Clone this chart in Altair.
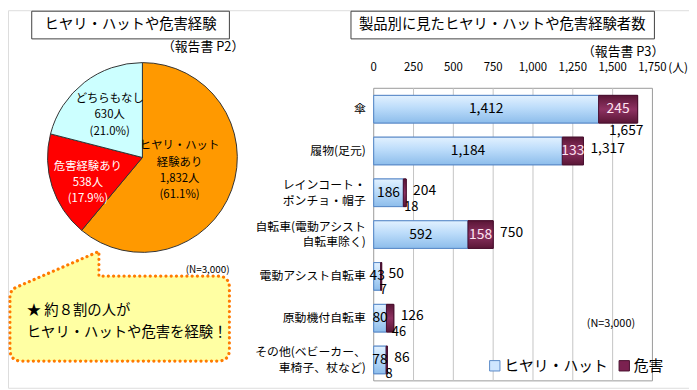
import math
import altair as alt
import pandas as pd

FONT = "Noto Sans CJK JP"

# ---------------- data ----------------
pie_title = "ヒヤリ・ハットや危害経験"
pie_source = "（報告書 P2）"
pie_names = ["ヒヤリ・ハット経験あり", "危害経験あり", "どちらもなし"]
pie_lines = ["ヒヤリ・ハット\n経験あり", "危害経験あり", "どちらもなし"]
pie_counts = [1832, 538, 630]
pie_pcts = [61.1, 17.9, 21.0]
pie_n = "(N=3,000)"
callout_lines = ["★  約８割の人が", "ヒヤリ・ハットや危害を経験！"]

bar_title = "製品別に見たヒヤリ・ハットや危害経験者数"
bar_source = "（報告書 P3）"
categories = ["傘", "履物(足元)", "レインコート・\nポンチョ・帽子", "自転車(電動アシスト\n自転車除く)　　",
              "電動アシスト自転車", "原動機付自転車", "その他(ベビーカー、\n車椅子、杖など)　"]
hiyari = [1412, 1184, 186, 592, 43, 80, 78]
kigai = [245, 133, 18, 158, 7, 46, 8]
totals = [1657, 1317, 204, 750, 50, 126, 86]
series_names = ["ヒヤリ・ハット", "危害"]
x_ticks = [0, 250, 500, 750, 1000, 1250, 1500, 1750]
x_unit = "(人)"
bar_n = "(N=3,000)"

# ---------------- tables ----------------
pie_df = pd.DataFrame({
    "name": pie_names,
    "count": pie_counts,
    "idx": list(range(len(pie_names))),
    "label": [f"{l}\n{c:,}人\n({p:.1f}%)" for l, c, p in zip(pie_lines, pie_counts, pie_pcts)],
})
bar_df = pd.DataFrame({"category": categories, "hiyari": hiyari, "kigai": kigai, "total": totals})
long_df = pd.DataFrame({
    "category": categories * 2,
    "series": [series_names[0]] * len(categories) + [series_names[1]] * len(categories),
    "value": hiyari + kigai,
    "sidx": [0] * len(categories) + [1] * len(categories),
})
one = pd.DataFrame({"t": [""]})

# ---------------- scales ----------------
PX0, PX1, PY0, PY1 = 370, 652, 79, 375
xs = alt.Scale(domain=[x_ticks[0], x_ticks[-1]], range=[PX0, PX1], nice=False, zero=True)
ys = alt.Scale(domain=categories, range=[PY0, PY1], paddingInner=0.34, paddingOuter=0.17)
ts = alt.Scale(domain=[0, sum(pie_counts)], range=[0, 2 * math.pi], nice=False)
PCX, PCY, PR = 136, 149, 96
LH = 16.5


def label(text, x, y, size, align="center", color="black"):
    return alt.Chart(pd.DataFrame({"t": [text]})).mark_text(
        font=FONT, fontSize=size, align=align, baseline="middle", color=color
    ).encode(x=alt.value(x), y=alt.value(y), text="t:N")


def box(x0, x1, y0, y1):
    return alt.Chart(one).mark_rect(fill="white", stroke="#404040", strokeWidth=1).encode(
        x=alt.value(x0), x2=alt.value(x1), y=alt.value(y0), y2=alt.value(y1))


# ---------------- left: pie ----------------
pie_base = alt.Chart(pie_df).transform_stack(
    stack="count", as_=["c0", "c1"], groupby=[], sort=[alt.SortField("idx", order="ascending")]
)
arcs = pie_base.mark_arc(radius=PR, stroke="#333333", strokeWidth=1).encode(
    theta=alt.Theta("c0:Q", scale=ts),
    theta2="c1:Q",
    color=alt.Color("name:N", scale=alt.Scale(domain=pie_names, range=["#FF9900", "#FF0000", "#CCFFFF"]),
                    legend=None),
    x=alt.value(PCX), y=alt.value(PCY),
)


def pie_label(i, r, color, nlines, dy=0):
    return pie_base.transform_calculate(mid="(datum.c0 + datum.c1) / 2").transform_filter(
        f"datum.idx == {i}"
    ).mark_text(radius=r, font=FONT, fontSize=11.5, lineBreak="\n", lineHeight=LH, color=color,
                dy=dy - (nlines - 1) * LH / 2, baseline="middle").encode(
        theta=alt.Theta("mid:Q", scale=ts), x=alt.value(PCX), y=alt.value(PCY), text="label:N")


pie_texts = [pie_label(0, 40, "black", 4), pie_label(1, 58, "white", 3, 8), pie_label(2, 54, "black", 3)]

callout_path = ("M 2 290 Q 2 283 9 280 L 92 244 L 92 269 L 212 269 Q 224 269 224 281 "
                "L 224 343 Q 224 355 212 355 L 14 355 Q 2 355 2 343 Z")
callout = alt.Chart(one).mark_point(
    shape=callout_path, size=4, filled=True, fill="#FFFFA3", stroke="#FF7A00", strokeWidth=3.2,
    strokeDash=[0.1, 5.2], strokeCap="round", opacity=1
).encode(x=alt.value(0), y=alt.value(0))

left_layers = [
    box(24, 224, 1, 29), label(pie_title, 124, 15, 14.5),
    label(pie_source, 239, 37, 13, align="right"),
    arcs, *pie_texts,
    callout,
    label(pie_n, 202, 263, 10),
    label(callout_lines[0], 19, 304, 14.5, align="left"),
    label(callout_lines[1], 19, 327, 14.5, align="left"),
]

# ---------------- right: bars ----------------
frame = alt.Chart(one).mark_rect(fill="white", stroke="#9A9A9A", strokeWidth=1).encode(
    x=alt.X(datum=x_ticks[0], scale=xs, axis=None), x2=alt.X2(datum=x_ticks[-1]),
    y=alt.value(PY0), y2=alt.value(PY1))
tick_df = pd.DataFrame({"tick": x_ticks})
grid = alt.Chart(tick_df).transform_filter(
    f"datum.tick > {x_ticks[0]} && datum.tick < {x_ticks[-1]}"
).mark_rule(color="#C4C4C4", strokeWidth=1).encode(
    x=alt.X("tick:Q", scale=xs, axis=None), y=alt.value(PY0), y2=alt.value(PY1))
tick_txt = alt.Chart(tick_df).mark_text(font=FONT, fontSize=11.5, color="black", baseline="middle").encode(
    x=alt.X("tick:Q", scale=xs, axis=None), y=alt.value(59), text=alt.Text("tick:Q", format=","))

leg = alt.Legend(orient="none", legendX=485, legendY=352, direction="horizontal", title=None,
                 symbolType="square", symbolSize=110, labelFont=FONT, labelFontSize=15, labelColor="black",
                 columnPadding=8, labelOffset=2, symbolStrokeWidth=1)
legend_bars = alt.Chart(long_df).mark_bar(strokeWidth=1).encode(
    x=alt.X("value:Q", stack="zero", scale=xs, axis=None),
    y=alt.Y("category:N", scale=ys, axis=None),
    fill=alt.Fill("series:N", scale=alt.Scale(domain=series_names, range=["#CFE6FF", "#7B2150"]), legend=leg),
    stroke=alt.Stroke("series:N", scale=alt.Scale(domain=series_names, range=["#5B8BC8", "#4A1030"]), legend=leg),
    order=alt.Order("sidx:Q"),
)
blue_grad = {"gradient": "linear", "x1": 0, "y1": 0, "x2": 0, "y2": 1,
             "stops": [{"offset": 0, "color": "#E2F1FF"}, {"offset": 0.45, "color": "#BCDCFA"},
                       {"offset": 1, "color": "#8DBDEB"}]}
dark_grad = {"gradient": "linear", "x1": 0, "y1": 0, "x2": 0, "y2": 1,
             "stops": [{"offset": 0, "color": "#5A1636"}, {"offset": 0.5, "color": "#8E3262"},
                       {"offset": 1, "color": "#5A1636"}]}
bars_base = alt.Chart(bar_df)
Y = alt.Y("category:N", scale=ys, axis=None)
blue_bars = bars_base.mark_bar(color=blue_grad, stroke="#5B8BC8", strokeWidth=1).encode(
    x=alt.X("hiyari:Q", scale=xs, axis=None), y=Y)
dark_bars = bars_base.mark_bar(color=dark_grad, stroke="#4A1030", strokeWidth=1).encode(
    x=alt.X("hiyari:Q", scale=xs, axis=None), x2="total:Q", y=Y)

hiyari_txt = bars_base.transform_calculate(hm="datum.hiyari / 2").mark_text(
    font=FONT, fontSize=14, color="black", baseline="middle").encode(
    x=alt.X("hm:Q", scale=xs, axis=None), y=Y, text=alt.Text("hiyari:Q", format=","))
kigai_big = bars_base.transform_filter("datum.kigai >= 100").transform_calculate(
    km="datum.hiyari + datum.kigai / 2").mark_text(
    font=FONT, fontSize=14, color="#FFE4F1", baseline="middle").encode(
    x=alt.X("km:Q", scale=xs, axis=None), y=Y, text=alt.Text("kigai:Q", format=","))
kigai_small = bars_base.transform_filter("datum.kigai < 100").mark_text(
    font=FONT, fontSize=13, color="black", baseline="middle", align="left", dx=-2, dy=14).encode(
    x=alt.X("total:Q", scale=xs, axis=None), y=Y, text=alt.Text("kigai:Q", format=","))
total_txt = bars_base.transform_filter("datum.total < 1500").mark_text(
    font=FONT, fontSize=14, color="black", baseline="middle", align="left", dx=7, dy=-2).encode(
    x=alt.X("total:Q", scale=xs, axis=None), y=Y, text=alt.Text("total:Q", format=","))
total_far = bars_base.transform_filter("datum.total >= 1500").mark_text(
    font=FONT, fontSize=14, color="black", baseline="middle", align="right", dx=6, dy=22).encode(
    x=alt.X("total:Q", scale=xs, axis=None), y=Y, text=alt.Text("total:Q", format=","))
CAT_LH = 16
cat_single = bars_base.transform_filter("indexof(datum.category, '\\n') < 0").mark_text(
    font=FONT, fontSize=12, color="black", align="right", baseline="middle").encode(
    x=alt.value(PX0 - 8), y=Y, text="category:N")
cat_multi = bars_base.transform_filter("indexof(datum.category, '\\n') >= 0").mark_text(
    font=FONT, fontSize=12, color="black", align="right", baseline="middle",
    lineBreak="\n", lineHeight=CAT_LH, dy=-CAT_LH / 2).encode(
    x=alt.value(PX0 - 8), y=Y, text="category:N")

right_layers = [
    box(347, 654, 1, 29), label(bar_title, 500, 15, 14.5),
    label(bar_source, 664, 42, 13, align="right"),
    frame, grid, tick_txt, legend_bars, blue_bars, dark_bars,
    hiyari_txt, kigai_big, kigai_small, total_txt, total_far, cat_single, cat_multi,
    label(x_unit, 668, 59, 12, align="left"),
    label(bar_n, 610, 318, 11),
]

chart = alt.layer(*left_layers, *right_layers).properties(
    width=689, height=382, padding=0, autosize=alt.AutoSizeParams(type="none"), background="white"
).configure_view(stroke=None).configure(font=FONT)

chart.save("out.html", embed_options={"renderer": "svg", "actions": False})
